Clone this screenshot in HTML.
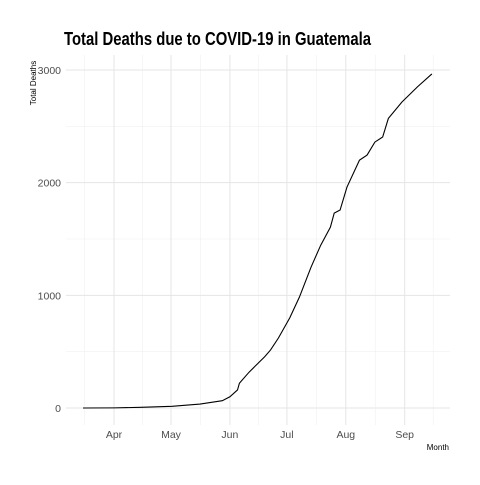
<!DOCTYPE html>
<html><head><meta charset="utf-8"><style>
body{margin:0;background:#fff;font-family:"Liberation Sans",sans-serif}
</style></head><body>
<svg id="chart" width="480" height="480" xmlns="http://www.w3.org/2000/svg">
<rect width="480" height="480" fill="#fff"/>
<text x="64" y="45" font-size="18" font-weight="bold" font-family="Liberation Sans, sans-serif" fill="#000" textLength="307" lengthAdjust="spacingAndGlyphs">Total Deaths due to COVID-19 in Guatemala</text>
<g id="grid"></g>
<g id="axes"></g>
<text transform="translate(36,83) rotate(-90)" text-anchor="middle" font-size="8" fill="#000">Total Deaths</text>
<text x="449" y="450" text-anchor="end" font-size="8" fill="#000">Month</text>
</svg>
<script>
const days = [-16.3,0,14.2,30.5,45.3,57,61,65,66,71.2,79.3,82.4,86.5,92.5,97.6,103.7,108.8,113.9,115.9,119,122.6,129.2,133.2,137.3,141.4,144.4,151.5,159.7,167.3];
const deaths = [0,1,6,15,35,65,100,160,220,320,455,515,620,800,985,1250,1445,1605,1730,1757,1960,2200,2245,2360,2405,2570,2715,2850,2965];
const monthLabels = ["Apr","May","Jun","Jul","Aug","Sep"];
const monthDays = [0,30,61,91,122,153];
const yTicks = [0,1000,2000,3000];

const NS="http://www.w3.org/2000/svg";
const x = d => 114 + d*1.90;
const y = v => 408 - v*0.11267;
const X0=66, X1=450, Y0=55, Y1=425;
const grid=document.getElementById('grid'), axes=document.getElementById('axes');
function mk(tag,attrs,parent){const e=document.createElementNS(NS,tag);for(const k in attrs)e.setAttribute(k,attrs[k]);parent.appendChild(e);return e;}
for(let i=0;i<yTicks.length-1;i++){
  const v=(yTicks[i]+yTicks[i+1])/2;
  const l=mk('line',{x1:X0,x2:X1,y1:y(v),y2:y(v),stroke:'#f0f0f0','stroke-width':0.6},grid);
  
  
}
const minorDays=[monthDays[0]-15.5];
for(let i=0;i<monthDays.length-1;i++)minorDays.push((monthDays[i]+monthDays[i+1])/2);
minorDays.push(monthDays[monthDays.length-1]+15);
minorDays.forEach(d=>{
  const l=mk('line',{x1:x(d),x2:x(d),y1:Y0,y2:Y1,stroke:'#f0f0f0','stroke-width':0.6},grid);
  
  
});
yTicks.forEach(v=>{
  const l=mk('line',{x1:X0,x2:X1,y1:y(v),y2:y(v),stroke:'#e5e5e5','stroke-width':1},grid);
  
  
  const t=mk('text',{x:61,y:y(v)+4,'text-anchor':'end','font-size':10.5,fill:'#4d4d4d'},axes);
  t.textContent=v;
  
  
});
monthDays.forEach((d,i)=>{
  const l=mk('line',{x1:x(d),x2:x(d),y1:Y0,y2:Y1,stroke:'#e5e5e5','stroke-width':1},grid);
  
  
  const t=mk('text',{x:x(d),y:438,'text-anchor':'middle','font-size':10.5,fill:'#4d4d4d'},axes);
  t.textContent=monthLabels[i];
  
  
});
const p=mk('polyline',{points:days.map((d,i)=>x(d)+','+y(deaths[i])).join(' '),fill:'none',stroke:'#000','stroke-width':1.1},document.getElementById('chart'));


</script>
</body></html>
